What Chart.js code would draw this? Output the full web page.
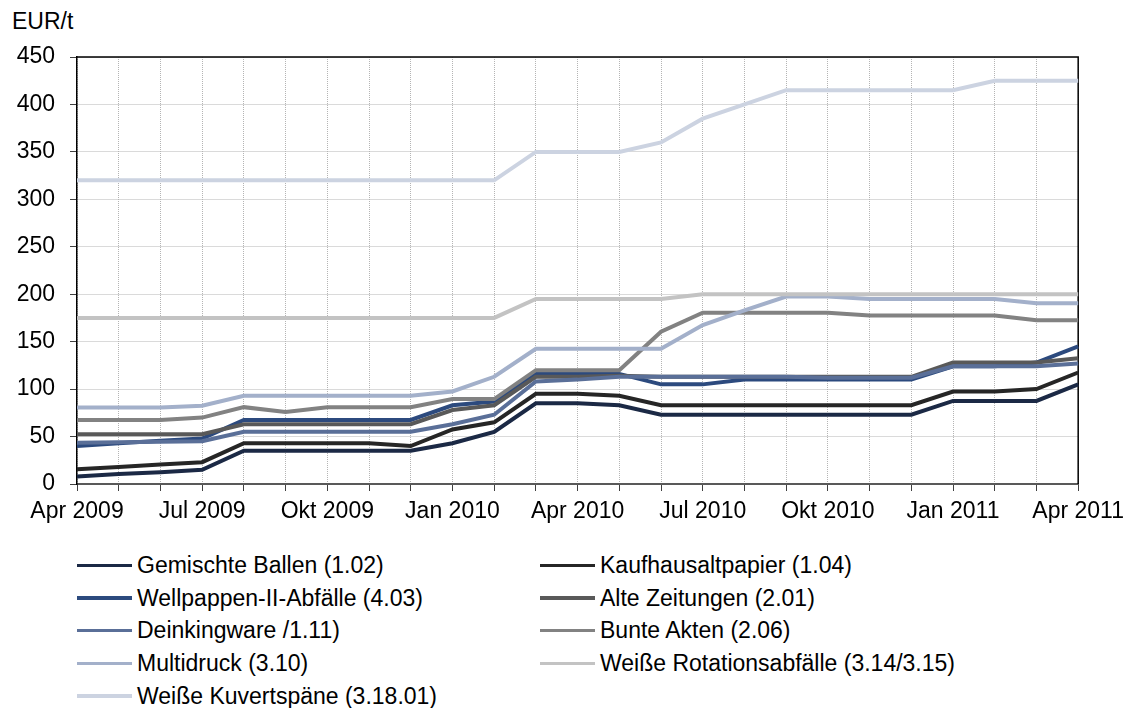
<!DOCTYPE html>
<html>
<head>
<meta charset="utf-8">
<script src="https://cdn.jsdelivr.net/npm/chart.js@4.4.0/dist/chart.umd.min.js"></script>
<style>
  body { margin: 0; background: #fff; font-family: "Liberation Sans", Arial, sans-serif; }
  #wrap { position: relative; width: 1131px; height: 708px; }
  #chart { position: absolute; left: 0; top: 0; }
  #unit { position: absolute; left: 12px; top: 8px; font-size: 23px; color: #000; }
  #legend { position: absolute; left: 77px; top: 549px; display: grid; grid-template-columns: 463px 480px; grid-auto-rows: 32.7px; }
  .item { display: flex; align-items: center; font-size: 23px; color: #000; white-space: nowrap; }
  .swatch { display: inline-block; width: 55px; height: 3.5px; margin-right: 5px; }
</style>
</head>
<body>
<div id="wrap">
  <div id="unit">EUR/t</div>
  <canvas id="chart" width="1131" height="540"></canvas>
  <div id="legend"></div>
</div>
<script>
const months = [
  "Apr 2009", "Mai 2009", "Jun 2009", "Jul 2009", "Aug 2009", "Sep 2009", "Okt 2009", "Nov 2009", "Dez 2009",
  "Jan 2010", "Feb 2010", "Mrz 2010", "Apr 2010", "Mai 2010", "Jun 2010", "Jul 2010", "Aug 2010", "Sep 2010",
  "Okt 2010", "Nov 2010", "Dez 2010", "Jan 2011", "Feb 2011", "Mrz 2011", "Apr 2011"
];

// Werte in EUR/t
const gemischteBallen = [8, 10.5, 12.5, 15, 35, 35, 35, 35, 35, 43, 55, 85, 85, 83, 73, 73, 73, 73, 73, 73, 73, 87.5, 87.5, 87.5, 105];
const kaufhausaltpapier = [15.5, 18, 20.5, 23, 43, 43, 43, 43, 40, 57.5, 65, 95, 95, 93, 83, 83, 83, 83, 83, 83, 83, 97.5, 97.5, 100, 117.5];
const wellpappen = [40, 43, 45.5, 48, 67.5, 67.5, 67.5, 67.5, 67.5, 83, 87, 117, 116, 116, 105, 105, 110, 110, 110, 110, 110, 124, 124, 128, 145];
const alteZeitungen = [52.5, 52.5, 52.5, 52.5, 63, 63, 63, 63, 63, 78, 83, 113, 113, 114, 113, 113, 113, 113, 113, 113, 113, 128, 128, 128, 132.5];
const deinkingware = [43.5, 44, 44.5, 45, 55, 55, 55, 55, 55, 63, 73, 108, 110, 113, 113, 113, 113, 113, 112, 112, 112, 124, 124, 124, 127];
const bunteAkten = [67.5, 67.5, 67.5, 70, 81, 76, 81, 81, 81, 89.5, 89.5, 120, 120, 120, 160.5, 180.5, 180.5, 180.5, 180.5, 177.5, 177.5, 177.5, 177.5, 172.5, 172.5];
const multidruck = [80.5, 80.5, 80.5, 82.5, 93, 93, 93, 93, 93, 97.5, 113, 142.5, 142.5, 142.5, 142.5, 167.5, 183, 197.5, 197.5, 195, 195, 195, 195, 190.5, 190.5];
const rotationsabfaelle = [175, 175, 175, 175, 175, 175, 175, 175, 175, 175, 175, 195, 195, 195, 195, 200, 200, 200, 200, 200, 200, 200, 200, 200, 200];
const kuvertspaene = [320, 320, 320, 320, 320, 320, 320, 320, 320, 320, 320, 350, 350, 350, 360, 385, 400, 415, 415, 415, 415, 415, 425, 425, 425];

const seriesNames = [
  "Gemischte Ballen (1.02)", "Kaufhausaltpapier (1.04)", "Wellpappen-II-Abfälle (4.03)", "Alte Zeitungen (2.01)",
  "Deinkingware /1.11)", "Bunte Akten (2.06)", "Multidruck (3.10)", "Weiße Rotationsabfälle (3.14/3.15)",
  "Weiße Kuvertspäne (3.18.01)"
];
const seriesValues = [gemischteBallen, kaufhausaltpapier, wellpappen, alteZeitungen, deinkingware, bunteAkten, multidruck, rotationsabfaelle, kuvertspaene];
const seriesColors = ["#1b2945", "#262626", "#2c4a7e", "#595959", "#5a6f98", "#828282", "#a3b0ca", "#c3c3c3", "#ccd3e1"];

const yTicks = [0, 50, 100, 150, 200, 250, 300, 350, 400, 450];

const datasets = seriesNames.map((name, i) => ({
  label: name,
  data: seriesValues[i],
  borderColor: seriesColors[i],
  backgroundColor: seriesColors[i],
  borderWidth: 4,
  pointRadius: 0,
  tension: 0,
  fill: false,
  order: seriesNames.length - i
}));

// Rahmen oben und rechts
const framePlugin = {
  id: "frame",
  beforeDatasetsDraw(chart) {
    const { ctx, chartArea: a } = chart;
    ctx.save();
    ctx.strokeStyle = "#000";
    ctx.lineWidth = 1.5;
    ctx.beginPath();
    ctx.moveTo(a.left, a.top);
    ctx.lineTo(a.right, a.top);
    ctx.lineTo(a.right, a.bottom);
    ctx.stroke();
    ctx.restore();
  }
};

const font = { family: "'Liberation Sans', Arial, sans-serif", size: 23 };

new Chart(document.getElementById("chart"), {
  type: "line",
  data: { labels: months, datasets },
  options: {
    responsive: false,
    animation: false,
    layout: { padding: { top: 57, right: 51, bottom: 0, left: 0 } },
    plugins: { legend: { display: false }, tooltip: { enabled: false } },
    scales: {
      x: {
        grid: { color: "#b4b4b4", lineWidth: 1, tickLength: 7, tickColor: "#404040", tickBorderDash: [] },
        border: { color: "#595959", width: 2, dash: [1, 1] },
        ticks: {
          autoSkip: false, maxRotation: 0, padding: 7, color: "#000", font,
          callback: (v, i) => (i % 3 === 0 ? months[i] : "")
        },
        afterFit: s => { s.height = 540 - 484; }
      },
      y: {
        min: 0, max: 450,
        afterBuildTicks: s => { s.ticks = yTicks.map(v => ({ value: v })); },
        grid: { color: "#b4b4b4", lineWidth: 1, tickLength: 7, tickColor: "#404040", tickBorderDash: [] },
        border: { color: "#000", width: 1.5, dash: [1, 1] },
        ticks: { padding: 15, color: "#000", font },
        afterFit: s => { s.width = 77; }
      }
    }
  },
  plugins: [framePlugin]
});

// Legende
const legendEl = document.getElementById("legend");
seriesNames.forEach((name, i) => {
  const item = document.createElement("div");
  item.className = "item";
  item.innerHTML = `<span class="swatch" style="background:${seriesColors[i]}"></span>${name}`;
  legendEl.appendChild(item);
});
</script>
</body>
</html>
